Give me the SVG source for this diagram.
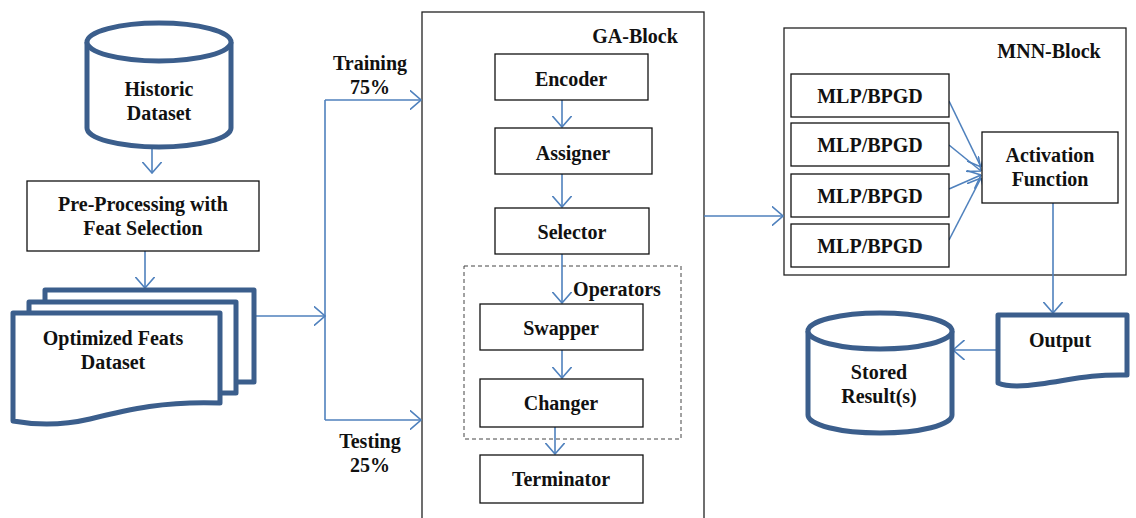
<svg xmlns="http://www.w3.org/2000/svg" width="1136" height="518" viewBox="0 0 1136 518" font-family="Liberation Serif, Noto Serif, DejaVu Serif, Times New Roman, Times, serif">
  <style>
    text { font-weight: bold; font-size: 20px; fill: #111; text-anchor: middle; dominant-baseline: central; }
    .thick { fill: #fff; stroke: #3B5E8C; stroke-width: 5; stroke-linejoin: round; }
    .box { fill: #fff; stroke: #111; stroke-width: 1.3; }
    .frame { fill: none; stroke: #222; stroke-width: 1.3; }
    .dash { fill: none; stroke: #444; stroke-width: 1; stroke-dasharray: 4 3; }
    .conn { fill: none; stroke: #4F81BD; stroke-width: 1.6; }
    .arr { marker-end: url(#head); }
  </style>
  <defs>
    <marker id="head" viewBox="0 0 12 20" refX="11.5" refY="10" markerWidth="12" markerHeight="20" markerUnits="userSpaceOnUse" orient="auto">
      <path d="M0,0 L11.5,10 L0,20" fill="none" stroke="#4F81BD" stroke-width="1.6"/>
    </marker>
  </defs>

  <!-- container frames -->
  <g id="ga-block">
    <rect class="frame" x="422" y="12" width="282" height="520"/>
    <text x="635" y="36">GA-Block</text>
  </g>
  <g id="mnn-block">
    <rect class="frame" x="784" y="28" width="342" height="247"/>
    <text x="1049" y="51">MNN-Block</text>
  </g>
  <g id="operators">
    <rect class="dash" x="464" y="266" width="217" height="173"/>
    <text x="617" y="289">Operators</text>
  </g>

  <!-- connectors -->
  <g id="connectors">
    <line class="conn arr" x1="152" y1="147" x2="152" y2="173"/>
    <line class="conn arr" x1="145" y1="251" x2="145" y2="288"/>
    <line class="conn arr" x1="254" y1="316" x2="325" y2="316"/>
    <line class="conn" x1="325" y1="100" x2="325" y2="420"/>
    <line class="conn arr" x1="325" y1="100" x2="421" y2="100"/>
    <line class="conn arr" x1="325" y1="420" x2="421" y2="420"/>
    <line class="conn arr" x1="562" y1="100" x2="562" y2="127"/>
    <line class="conn arr" x1="562" y1="174" x2="562" y2="207"/>
    <line class="conn arr" x1="562" y1="254" x2="562" y2="303"/>
    <line class="conn arr" x1="562" y1="350" x2="562" y2="378"/>
    <line class="conn arr" x1="555" y1="427" x2="555" y2="454"/>
    <line class="conn arr" x1="704" y1="216" x2="783" y2="216"/>
    <line class="conn arr" x1="949" y1="101" x2="981" y2="167"/>
    <line class="conn arr" x1="949" y1="145" x2="981" y2="171"/>
    <line class="conn arr" x1="949" y1="189" x2="981" y2="175"/>
    <line class="conn arr" x1="949" y1="240" x2="981" y2="178"/>
    <line class="conn arr" x1="1053" y1="203" x2="1053" y2="313"/>
    <line class="conn arr" x1="998" y1="350" x2="953" y2="350"/>
  </g>

  <g id="historic-dataset">
    <path class="thick" d="M87,42 V128 A72,19 0 0 0 231,128 V42"/>
    <ellipse class="thick" cx="159" cy="42" rx="72" ry="19"/>
    <text x="159" y="89">Historic</text>
    <text x="159" y="113">Dataset</text>
  </g>

  <g id="pre-processing">
    <rect class="box" x="27" y="181" width="232" height="70"/>
    <text x="143" y="204">Pre-Processing with</text>
    <text x="143" y="228">Feat Selection</text>
  </g>

  <g id="optimized-feats">
    <rect class="thick" x="45" y="290" width="209" height="92"/>
    <rect class="thick" x="29" y="302" width="207" height="91"/>
    <path class="thick" d="M13,313 H220 V403 C165,401 130,409 90,419 C60,426 35,425 13,421 Z"/>
    <text x="113" y="338">Optimized Feats</text>
    <text x="113" y="362">Dataset</text>
  </g>

  <g id="split-labels">
    <text x="370" y="63">Training</text>
    <text x="370" y="87">75%</text>
    <text x="370" y="441">Testing</text>
    <text x="370" y="465">25%</text>
  </g>

  <g id="encoder">
    <rect class="box" x="495" y="54" width="153" height="46"/>
    <text x="571" y="79">Encoder</text>
  </g>
  <g id="assigner">
    <rect class="box" x="495" y="128" width="157" height="46"/>
    <text x="573" y="153">Assigner</text>
  </g>
  <g id="selector">
    <rect class="box" x="495" y="208" width="154" height="46"/>
    <text x="572" y="232">Selector</text>
  </g>
  <g id="swapper">
    <rect class="box" x="480" y="304" width="163" height="46"/>
    <text x="561" y="328">Swapper</text>
  </g>
  <g id="changer">
    <rect class="box" x="480" y="379" width="163" height="48"/>
    <text x="561" y="403">Changer</text>
  </g>
  <g id="terminator">
    <rect class="box" x="480" y="455" width="163" height="48"/>
    <text x="561" y="479">Terminator</text>
  </g>

  <g id="mlp-1">
    <rect class="box" x="791" y="74" width="158" height="43"/>
    <text x="870" y="96">MLP/BPGD</text>
  </g>
  <g id="mlp-2">
    <rect class="box" x="791" y="123" width="158" height="43"/>
    <text x="870" y="145">MLP/BPGD</text>
  </g>
  <g id="mlp-3">
    <rect class="box" x="791" y="174" width="158" height="43"/>
    <text x="870" y="196">MLP/BPGD</text>
  </g>
  <g id="mlp-4">
    <rect class="box" x="791" y="224" width="158" height="43"/>
    <text x="870" y="246">MLP/BPGD</text>
  </g>
  <g id="activation">
    <rect class="box" x="982" y="132" width="136" height="71"/>
    <text x="1050" y="155">Activation</text>
    <text x="1050" y="179">Function</text>
  </g>

  <g id="output">
    <path class="thick" d="M998,315 H1127 V375 C1090,374 1070,380 1040,384 C1020,387 1005,386 998,383 Z"/>
    <text x="1060" y="340">Output</text>
  </g>

  <g id="stored-results">
    <path class="thick" d="M808,331 V415 A72,18 0 0 0 952,415 V331"/>
    <ellipse class="thick" cx="880" cy="331" rx="72" ry="18"/>
    <text x="879" y="372">Stored</text>
    <text x="879" y="396">Result(s)</text>
  </g>
</svg>
